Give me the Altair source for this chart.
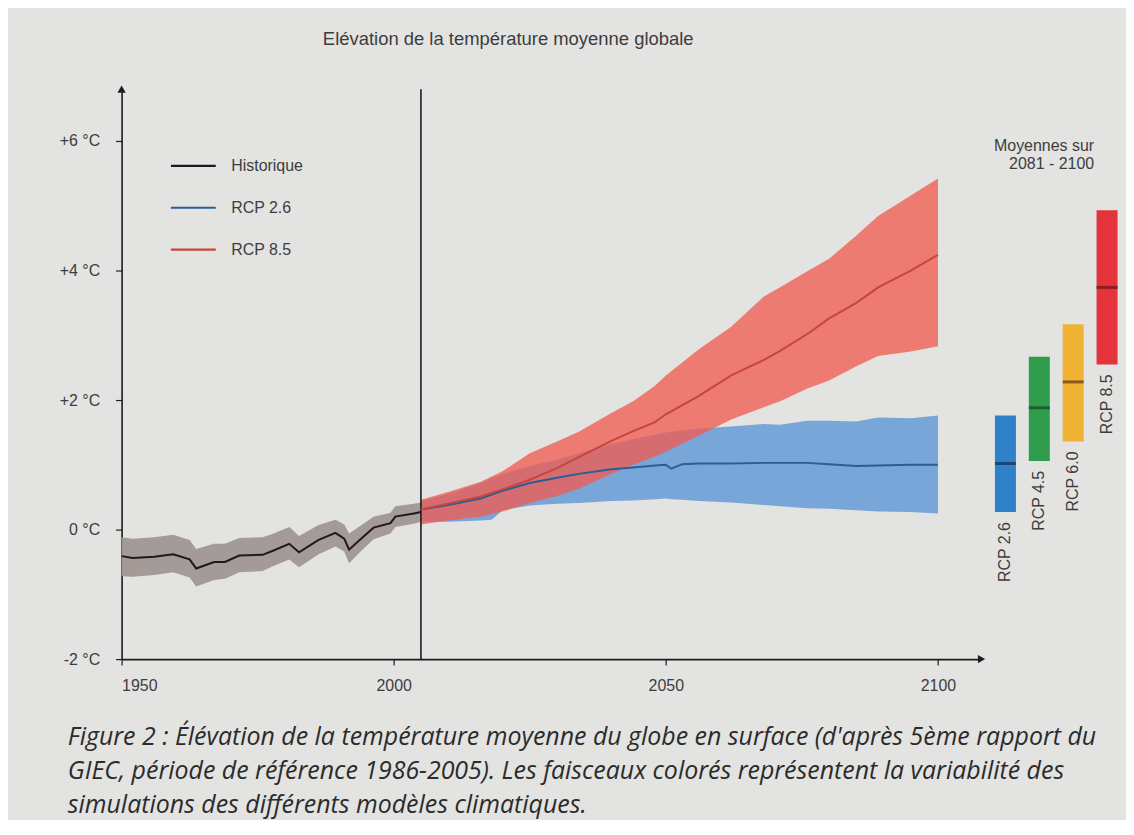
import altair as alt
import pandas as pd

# ---------------- data ----------------
TITLE = "Elévation de la température moyenne globale"
CAPTION = [
    "Figure 2 : Élévation de la température moyenne du globe en surface (d'après 5ème rapport du",
    "GIEC, période de référence 1986-2005). Les faisceaux colorés représentent la variabilité des",
    "simulations des différents modèles climatiques.",
]
MEANS_NOTE = ["Moyennes sur", "2081 - 2100"]

series_names = ["Historique", "RCP 2.6", "RCP 8.5"]

hist_years = [1950, 1952, 1956, 1959.5, 1962.5, 1963.7, 1967, 1969, 1971.6, 1975.9, 1977.7,
              1980.8, 1982.6, 1986.2, 1989.3, 1990.9, 1991.8, 1993.9, 1996.3, 1999.4,
              2000.3, 2003.7, 2005]
hist_vals = [-0.41, -0.44, -0.42, -0.38, -0.46, -0.60, -0.50, -0.50, -0.40, -0.39, -0.33,
             -0.22, -0.35, -0.16, -0.05, -0.14, -0.31, -0.15, 0.03, 0.10,
             0.20, 0.25, 0.27]
hist_high = [-0.12, -0.14, -0.12, -0.08, -0.16, -0.30, -0.22, -0.22, -0.13, -0.12, -0.07,
             0.04, -0.10, 0.07, 0.15, 0.08, -0.06, 0.06, 0.20, 0.26,
             0.36, 0.40, 0.42]
hist_low = [-0.72, -0.73, -0.70, -0.66, -0.74, -0.88, -0.78, -0.76, -0.66, -0.64, -0.57,
            -0.46, -0.58, -0.38, -0.26, -0.34, -0.52, -0.34, -0.15, -0.06,
            0.04, 0.09, 0.12]

rcp85_years = [2005, 2010, 2016, 2020, 2025, 2030, 2034, 2040, 2044, 2048, 2050, 2056,
               2062, 2068, 2071, 2076, 2080, 2085, 2089, 2095, 2100]
rcp85_vals = [0.31, 0.40, 0.51, 0.62, 0.77, 0.95, 1.12, 1.37, 1.52, 1.66, 1.78, 2.06,
              2.38, 2.62, 2.76, 3.02, 3.26, 3.50, 3.74, 4.00, 4.24]
rcp85_high = [0.46, 0.58, 0.74, 0.90, 1.18, 1.36, 1.51, 1.80, 1.98, 2.22, 2.38, 2.78,
              3.13, 3.60, 3.74, 3.99, 4.18, 4.54, 4.84, 5.16, 5.42]
rcp85_low = [0.08, 0.14, 0.20, 0.28, 0.41, 0.52, 0.63, 0.86, 1.00, 1.13, 1.20, 1.45,
             1.70, 1.89, 1.98, 2.18, 2.30, 2.52, 2.68, 2.75, 2.83]

rcp26_years = [2005, 2010, 2016, 2018, 2020, 2025, 2030, 2034, 2040, 2044, 2048, 2050,
               2051, 2053, 2056, 2062, 2068, 2071, 2076, 2080, 2085, 2089, 2095, 2100]
rcp26_vals = [0.31, 0.38, 0.48, 0.54, 0.60, 0.72, 0.80, 0.86, 0.93, 0.96, 0.99, 1.00,
              0.94, 1.01, 1.02, 1.02, 1.03, 1.03, 1.03, 1.01, 0.98, 0.99, 1.00, 1.00]
rcp26_high = [0.44, 0.55, 0.72, 0.80, 0.86, 0.98, 1.08, 1.18, 1.32, 1.40, 1.47, 1.50,
              1.51, 1.53, 1.56, 1.59, 1.63, 1.62, 1.68, 1.68, 1.67, 1.73, 1.72, 1.76]
rcp26_low = [0.12, 0.12, 0.14, 0.15, 0.30, 0.37, 0.40, 0.41, 0.44, 0.45, 0.47, 0.48,
             0.47, 0.46, 0.44, 0.42, 0.38, 0.36, 0.33, 0.32, 0.30, 0.28, 0.27, 0.25]

scenarios = ["RCP 2.6", "RCP 4.5", "RCP 6.0", "RCP 8.5"]
scen_mean = [1.02, 1.88, 2.28, 3.74]
scen_low = [0.27, 1.06, 1.36, 2.55]
scen_high = [1.76, 2.67, 3.17, 4.93]

split_year = 2005
x_ticks = [1950, 2000, 2050, 2100]
y_ticks = [-2, 0, 2, 4, 6]

# ---------------- styles ----------------
FONT = "Liberation Sans"
BG = "#e3e3e1"
TXT = "#3d3d3d"
line_colors = ["#1c1a1a", "#2b5d96", "#c9453c"]
bar_colors = ["#2f82c9", "#2f9d4b", "#efb234", "#e5333b"]
tick_colors = ["#1b4675", "#1f5c2f", "#8a5a16", "#8c1e24"]

X_MIN, X_MAX = 1950, 2108
Y_MIN, Y_MAX = -2, 6.8
PLOT_W, PLOT_H = 1004, 572

# ---------------- tables ----------------
hist_band = pd.DataFrame({"year": hist_years, "low": hist_low, "high": hist_high})
r26_band = pd.DataFrame({"year": rcp26_years, "low": rcp26_low, "high": rcp26_high})
r85_band = pd.DataFrame({"year": rcp85_years, "low": rcp85_low, "high": rcp85_high})
lines = pd.concat([
    pd.DataFrame({"series": series_names[0], "year": hist_years, "val": hist_vals}),
    pd.DataFrame({"series": series_names[1], "year": rcp26_years, "val": rcp26_vals}),
    pd.DataFrame({"series": series_names[2], "year": rcp85_years, "val": rcp85_vals}),
], ignore_index=True)
split_df = pd.DataFrame({"year": [split_year]})
arrow_up = pd.DataFrame({"year": [X_MIN], "val": [Y_MAX]})
arrow_right = pd.DataFrame({"year": [X_MAX], "val": [Y_MIN]})
scen_df = pd.DataFrame({"scenario": scenarios, "mean": scen_mean,
                        "low": scen_low, "high": scen_high})
one = pd.DataFrame({"k": [0]})

# ---------------- encodings ----------------
x_scale = alt.Scale(domain=[X_MIN, X_MAX], range=[0, 863], nice=False, zero=False)
y_scale = alt.Scale(domain=[Y_MIN, Y_MAX], nice=False, zero=False)
x_axis = alt.Axis(values=x_ticks, format="d", title=None, grid=False,
                  domainColor="#1c1c1c", domainWidth=1.6, tickColor="#1c1c1c",
                  tickWidth=1.2, tickSize=6, labelFont=FONT, labelFontSize=16,
                  labelColor=TXT, labelPadding=12)
y_axis = alt.Axis(values=y_ticks, title=None, grid=False,
                  labelExpr="datum.value > 0 ? '+' + datum.value + ' °C' : datum.value + ' °C'",
                  domainColor="#1c1c1c", domainWidth=1.6, tickColor="#1c1c1c",
                  tickWidth=1.2, tickSize=6, labelFont=FONT, labelFontSize=16,
                  labelColor=TXT, labelPadding=16)
X = lambda f="year": alt.X(f"{f}:Q", scale=x_scale, axis=x_axis)
Y = lambda f: alt.Y(f"{f}:Q", scale=y_scale, axis=y_axis)

hist_area = alt.Chart(hist_band).mark_area(color="#a09694", opacity=0.95).encode(
    x=X(), y=Y("low"), y2="high")
r26_area = alt.Chart(r26_band).mark_area(color="#79a6d8", opacity=1).encode(
    x=X(), y=Y("low"), y2="high")
r85_area = alt.Chart(r85_band).mark_area(color="#f05d52", opacity=0.78).encode(
    x=X(), y=Y("low"), y2="high")
split_rule = alt.Chart(split_df).mark_rule(color="#1c1c1c", strokeWidth=1.6).encode(x=X())
line_layer = alt.Chart(lines).mark_line(strokeWidth=2).encode(
    x=X(), y=Y("val"),
    color=alt.Color("series:N", scale=alt.Scale(domain=series_names, range=line_colors),
                    legend=alt.Legend(orient="none", legendX=48, legendY=53, title=None,
                                      symbolType="stroke", symbolSize=2025,
                                      symbolStrokeWidth=2.2, labelFont=FONT,
                                      labelFontSize=16, labelColor=TXT, labelOffset=14,
                                      rowPadding=10, padding=0)),
    order=alt.Order("year:Q"))
arr_up = alt.Chart(arrow_up).mark_point(shape="triangle-up", filled=True, size=70,
                                        color="#1c1c1c", opacity=1).encode(x=X(), y=Y("val"))
arr_right = alt.Chart(arrow_right).mark_point(shape="triangle-right", filled=True, size=70,
                                              color="#1c1c1c", opacity=1).encode(x=X(), y=Y("val"))
title_txt = alt.Chart(one).mark_text(text=TITLE, font=FONT, fontSize=18.5, color=TXT,
                                     align="center", baseline="middle").encode(
    x=alt.value(388), y=alt.value(-50))
caption_txt = alt.Chart(one).mark_text(text=CAPTION, font="Open Sans", fontSize=25,
                                       fontStyle="italic", color="#2b2b2b", align="left",
                                       baseline="middle", lineHeight=34).encode(
    x=alt.value(-54), y=alt.value(650))

main = alt.layer(hist_area, r26_area, r85_area, split_rule, line_layer,
                 arr_up, arr_right, title_txt, caption_txt)

# ---- right-hand bars (means 2081-2100) ----
bx = alt.X("scenario:N", scale=alt.Scale(domain=scenarios, range=[870, 1006],
                                         paddingInner=0.38, paddingOuter=0.19), axis=None)
by = lambda f: alt.Y(f"{f}:Q", scale=y_scale, axis=None)
bars = alt.Chart(scen_df).mark_bar().encode(
    x=bx, y=by("low"), y2="high",
    color=alt.Color("scenario:N", scale=alt.Scale(domain=scenarios, range=bar_colors),
                    legend=None))
ticks = alt.Chart(scen_df).mark_tick(thickness=3, size=21, opacity=1).encode(
    x=bx, y=by("mean"),
    color=alt.Color("scenario:N", scale=alt.Scale(domain=scenarios, range=tick_colors),
                    legend=None))
labels = alt.Chart(scen_df).mark_text(angle=270, align="right", baseline="middle",
                                      dx=-10, font=FONT, fontSize=16, color=TXT).encode(
    x=bx, y=by("low"), text="scenario:N")
note = alt.Chart(one).mark_text(text=MEANS_NOTE, font=FONT, fontSize=16, color=TXT,
                                align="right", baseline="middle", lineHeight=18).encode(
    x=alt.value(976), y=alt.value(57))
side = alt.layer(bars, ticks, labels, note).resolve_scale(color="independent")

chart = alt.layer(main, side).resolve_scale(
    x="independent", y="independent", color="independent"
).properties(
    width=PLOT_W, height=PLOT_H,
    autosize=alt.AutoSizeParams(type="none"),
    padding={"left": 114, "top": 80, "right": 4, "bottom": 160},
    background=BG,
).configure_view(strokeWidth=0)

chart.save("out.html", embed_options={"renderer": "svg", "actions": False})
